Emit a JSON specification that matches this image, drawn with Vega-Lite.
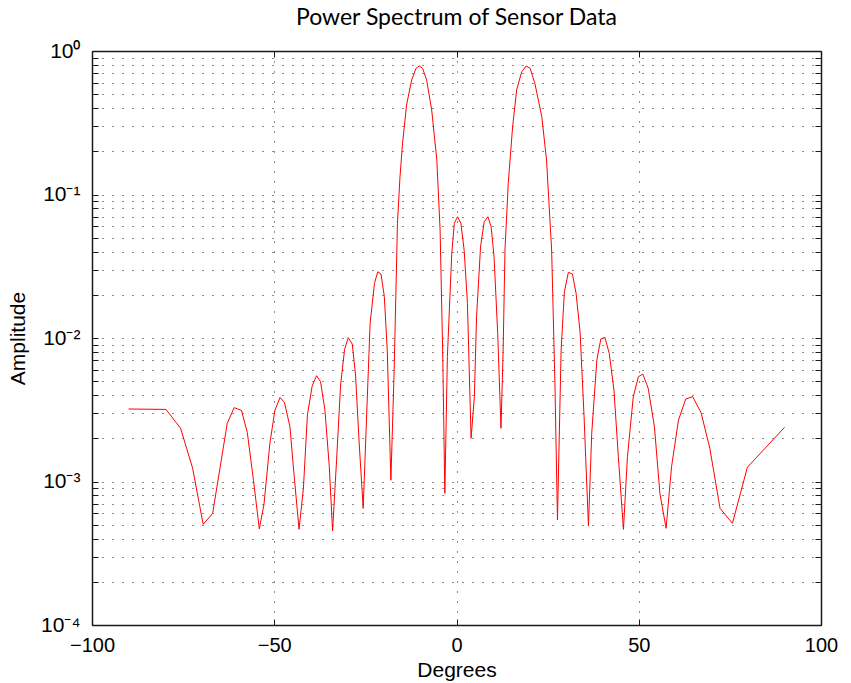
{
  "$schema": "https://vega.github.io/schema/vega-lite/v6.json",
  "width": 729,
  "height": 574,
  "autosize": {"type": "none"},
  "padding": {"left": 92, "top": 51, "right": 30, "bottom": 58},
  "background": "white",
  "title": {
    "text": "Power Spectrum of Sensor Data",
    "font": "Lato",
    "fontSize": 23,
    "fontWeight": "normal",
    "color": "#000000",
    "offset": 10
  },
  "config": {
    "view": {"stroke": null},
    "axis": {
      "labelFont": "Liberation Sans",
      "titleFont": "Liberation Sans",
      "labelColor": "#000000",
      "titleColor": "#000000",
      "domainColor": "#1a1a1a",
      "domainWidth": 1.5,
      "tickColor": "#1a1a1a",
      "tickWidth": 1,
      "gridColor": "#000000",
      "gridDash": [1, 9],
      "gridWidth": 1,
      "gridOpacity": 0.9
    }
  },
  "data": {
    "values": [
      {"deg": -90.0, "amp": 0.0032},
      {"deg": -79.7, "amp": 0.00318},
      {"deg": -75.7, "amp": 0.00235},
      {"deg": -72.4, "amp": 0.00124},
      {"deg": -69.5, "amp": 0.000503},
      {"deg": -66.9, "amp": 0.0006},
      {"deg": -62.9, "amp": 0.00254},
      {"deg": -61.0, "amp": 0.00327},
      {"deg": -59.0, "amp": 0.00313},
      {"deg": -57.4, "amp": 0.0022},
      {"deg": -55.7, "amp": 0.00102},
      {"deg": -54.1, "amp": 0.000467},
      {"deg": -52.8, "amp": 0.000697},
      {"deg": -51.2, "amp": 0.00185},
      {"deg": -49.8, "amp": 0.00315},
      {"deg": -48.4, "amp": 0.00385},
      {"deg": -47.2, "amp": 0.00355},
      {"deg": -45.7, "amp": 0.00241},
      {"deg": -44.6, "amp": 0.00114},
      {"deg": -43.2, "amp": 0.000464},
      {"deg": -42.0, "amp": 0.000897},
      {"deg": -40.9, "amp": 0.00291},
      {"deg": -39.6, "amp": 0.00463},
      {"deg": -38.4, "amp": 0.00546},
      {"deg": -37.3, "amp": 0.00496},
      {"deg": -36.1, "amp": 0.00315},
      {"deg": -34.9, "amp": 0.00127},
      {"deg": -34.0, "amp": 0.000452},
      {"deg": -32.9, "amp": 0.00141},
      {"deg": -31.8, "amp": 0.0047},
      {"deg": -30.7, "amp": 0.00834},
      {"deg": -29.7, "amp": 0.01005},
      {"deg": -28.6, "amp": 0.00908},
      {"deg": -27.7, "amp": 0.00552},
      {"deg": -26.7, "amp": 0.00185},
      {"deg": -25.6, "amp": 0.00065},
      {"deg": -24.6, "amp": 0.00315},
      {"deg": -23.7, "amp": 0.01266},
      {"deg": -22.5, "amp": 0.02405},
      {"deg": -21.6, "amp": 0.02897},
      {"deg": -20.7, "amp": 0.0279},
      {"deg": -19.8, "amp": 0.0194},
      {"deg": -19.0, "amp": 0.00825},
      {"deg": -18.0, "amp": 0.00102},
      {"deg": -17.1, "amp": 0.00598},
      {"deg": -16.2, "amp": 0.063},
      {"deg": -15.5, "amp": 0.133},
      {"deg": -14.8, "amp": 0.2274},
      {"deg": -13.7, "amp": 0.4204},
      {"deg": -12.3, "amp": 0.628},
      {"deg": -11.1, "amp": 0.7575},
      {"deg": -10.2, "amp": 0.786},
      {"deg": -9.3, "amp": 0.7575},
      {"deg": -8.2, "amp": 0.628},
      {"deg": -6.8, "amp": 0.388},
      {"deg": -5.4, "amp": 0.174},
      {"deg": -4.5, "amp": 0.0566},
      {"deg": -3.8, "amp": 0.00825},
      {"deg": -3.2, "amp": 0.000827},
      {"deg": -2.5, "amp": 0.00741},
      {"deg": -1.3, "amp": 0.0389},
      {"deg": -0.6, "amp": 0.063},
      {"deg": 0.3, "amp": 0.07},
      {"deg": 1.2, "amp": 0.063},
      {"deg": 2.1, "amp": 0.041},
      {"deg": 3.0, "amp": 0.01745},
      {"deg": 4.0, "amp": 0.002},
      {"deg": 4.9, "amp": 0.0039},
      {"deg": 5.5, "amp": 0.01407},
      {"deg": 6.6, "amp": 0.0433},
      {"deg": 7.6, "amp": 0.0646},
      {"deg": 8.6, "amp": 0.07},
      {"deg": 9.5, "amp": 0.0597},
      {"deg": 10.3, "amp": 0.0369},
      {"deg": 11.3, "amp": 0.01078},
      {"deg": 12.2, "amp": 0.00235},
      {"deg": 12.8, "amp": 0.00825},
      {"deg": 13.3, "amp": 0.041},
      {"deg": 14.2, "amp": 0.1197},
      {"deg": 15.4, "amp": 0.297},
      {"deg": 16.5, "amp": 0.535},
      {"deg": 17.9, "amp": 0.7175},
      {"deg": 19.1, "amp": 0.786},
      {"deg": 20.2, "amp": 0.7575},
      {"deg": 21.5, "amp": 0.5955},
      {"deg": 23.4, "amp": 0.3484},
      {"deg": 24.7, "amp": 0.174},
      {"deg": 26.1, "amp": 0.041},
      {"deg": 27.0, "amp": 0.00486},
      {"deg": 27.7, "amp": 0.000539},
      {"deg": 28.7, "amp": 0.00825},
      {"deg": 29.6, "amp": 0.021},
      {"deg": 30.7, "amp": 0.0287},
      {"deg": 31.8, "amp": 0.0279},
      {"deg": 32.8, "amp": 0.0205},
      {"deg": 33.9, "amp": 0.01106},
      {"deg": 35.0, "amp": 0.00283},
      {"deg": 36.2, "amp": 0.00049},
      {"deg": 37.1, "amp": 0.002167},
      {"deg": 38.5, "amp": 0.00703},
      {"deg": 39.6, "amp": 0.00984},
      {"deg": 40.7, "amp": 0.01011},
      {"deg": 41.9, "amp": 0.00782},
      {"deg": 43.2, "amp": 0.00434},
      {"deg": 44.4, "amp": 0.001489},
      {"deg": 45.8, "amp": 0.000464},
      {"deg": 46.9, "amp": 0.001489},
      {"deg": 48.5, "amp": 0.0039},
      {"deg": 49.9, "amp": 0.00537},
      {"deg": 51.1, "amp": 0.00561},
      {"deg": 52.6, "amp": 0.00446},
      {"deg": 54.3, "amp": 0.00241},
      {"deg": 55.8, "amp": 0.000827},
      {"deg": 57.5, "amp": 0.000472},
      {"deg": 59.0, "amp": 0.001268},
      {"deg": 60.9, "amp": 0.00268},
      {"deg": 62.9, "amp": 0.003757},
      {"deg": 64.8, "amp": 0.0039},
      {"deg": 67.1, "amp": 0.003015},
      {"deg": 69.5, "amp": 0.001703},
      {"deg": 72.3, "amp": 0.00065},
      {"deg": 75.7, "amp": 0.000511},
      {"deg": 79.8, "amp": 0.001256},
      {"deg": 90.0, "amp": 0.002386}
    ]
  },
  "layer": [
    {
      "mark": {"type": "line", "color": "#ff0000", "strokeWidth": 1, "interpolate": "linear"},
      "encoding": {
        "x": {
          "field": "deg",
          "type": "quantitative",
          "scale": {"domain": [-100, 100], "nice": false, "zero": false},
          "axis": {
            "orient": "bottom",
            "title": "Degrees",
            "values": [-100, -50, 0, 50, 100],
            "format": "d",
            "labelFontSize": 20,
            "titleFontSize": 21,
            "titleFontWeight": "normal",
            "titlePadding": 4,
            "tickSize": -6,
            "labelPadding": 16,
            "grid": true,
            "labelFlush": false
          }
        },
        "y": {
          "field": "amp",
          "type": "quantitative",
          "scale": {"type": "log", "domain": [0.0001, 1], "nice": false},
          "axis": {
            "orient": "left",
            "title": "Amplitude",
            "values": [0.0001, 0.0002, 0.0003, 0.0004, 0.0005, 0.0006, 0.0007, 0.0008, 0.0009, 0.001, 0.002, 0.003, 0.004, 0.005, 0.006, 0.007, 0.008, 0.009, 0.01, 0.02, 0.03, 0.04, 0.05, 0.06, 0.07, 0.08, 0.09, 0.1, 0.2, 0.3, 0.4, 0.5, 0.6, 0.7, 0.8, 0.9, 1],
            "labelExpr": "datum.value > 0.99 ? '10⁰' : (datum.value > 0.099 && datum.value < 0.101) ? '10⁻¹' : (datum.value > 0.0099 && datum.value < 0.0101) ? '10⁻²' : (datum.value > 0.00099 && datum.value < 0.00101) ? '10⁻³' : (datum.value > 0.000099 && datum.value < 0.000101) ? '10⁻⁴' : ''",
            "labelFontSize": 21,
            "titleFontSize": 21,
            "titleFontWeight": "normal",
            "titlePadding": 12,
            "tickSize": -6,
            "labelPadding": 18,
            "grid": true,
            "labelFlush": false,
            "labelOverlap": false
          }
        }
      }
    },
    {
      "mark": {"type": "line", "opacity": 0},
      "encoding": {
        "x": {
          "field": "deg",
          "type": "quantitative",
          "axis": {
            "orient": "top",
            "title": null,
            "values": [-100, -50, 0, 50, 100],
            "labels": false,
            "grid": false,
            "tickSize": -6
          }
        },
        "y": {
          "field": "amp",
          "type": "quantitative",
          "axis": {
            "orient": "right",
            "title": null,
            "values": [0.0001, 0.0002, 0.0003, 0.0004, 0.0005, 0.0006, 0.0007, 0.0008, 0.0009, 0.001, 0.002, 0.003, 0.004, 0.005, 0.006, 0.007, 0.008, 0.009, 0.01, 0.02, 0.03, 0.04, 0.05, 0.06, 0.07, 0.08, 0.09, 0.1, 0.2, 0.3, 0.4, 0.5, 0.6, 0.7, 0.8, 0.9, 1],
            "labels": false,
            "grid": false,
            "tickSize": -6
          }
        }
      }
    }
  ],
  "resolve": {"axis": {"x": "independent", "y": "independent"}}
}
